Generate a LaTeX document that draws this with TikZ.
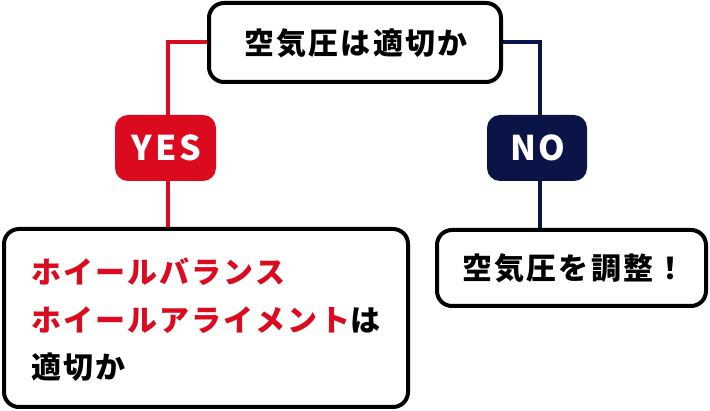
\documentclass[tikz,border=0pt]{standalone}
\usepackage{fontspec}
\setmainfont{Noto Sans CJK JP}
\newfontfamily\jpb{Noto Sans CJK JP}[LetterSpace=7]
\newfontfamily\lab{Noto Sans CJK JP}[LetterSpace=8]
\definecolor{ared}{HTML}{DC0A1E}
\definecolor{anavy}{HTML}{0A1446}
\tikzset{
  qbox/.style={draw=black, line width=4pt, rounded corners=15pt, fill=white, inner sep=0pt},
  tagbox/.style={rounded corners=13pt, inner sep=0pt, minimum width=101pt, minimum height=66pt, text=white, font=\lab\bfseries\fontsize{34}{34}\selectfont},
  txt/.style={inner sep=0pt, font=\jpb\bfseries\fontsize{30}{30}\selectfont},
  redline/.style={draw=ared, line width=4pt},
  navyline/.style={draw=anavy, line width=4pt}
}
\begin{document}
\begin{tikzpicture}[x=1pt,y=-1pt]
\useasboundingbox (0,0) rectangle (710,411);
% connector anchors
\coordinate (ry) at (168,148);
\coordinate (ny) at (540,148);
% boxes
\node[qbox, minimum width=292pt, minimum height=79pt] (q1) at (355,42.5) {};
\node[qbox, minimum width=404pt, minimum height=178pt] (q2) at (206,318) {};
\node[qbox, minimum width=269pt, minimum height=76pt] (q3) at (571.5,268) {};
% connectors
\draw[redline] (q1.west) -| (ry) -- (ry |- q2.north);
\draw[navyline] (q1.east) -| (ny) -- (ny |- q3.north);
% tags
\node[tagbox, fill=ared] (yes) at (165.5,148) {\hspace*{2pt}YES};
\node[tagbox, fill=anavy, minimum width=100pt] (no) at (537,148) {\hspace*{2pt}NO};
% texts
\node[txt] (t1) at (356,43) {空気圧は適切か};
\node[txt, anchor=west, text=ared] (t2) at (31,272) {ホイールバランス};
\node[txt, anchor=west] (t3) at (31,320) {\textcolor{ared}{ホイールアライメント}は};
\node[txt, anchor=west] (t4) at (31,367) {適切か};
\node[txt] (t5) at (574,268) {空気圧を調整！};
\end{tikzpicture}
\end{document}
